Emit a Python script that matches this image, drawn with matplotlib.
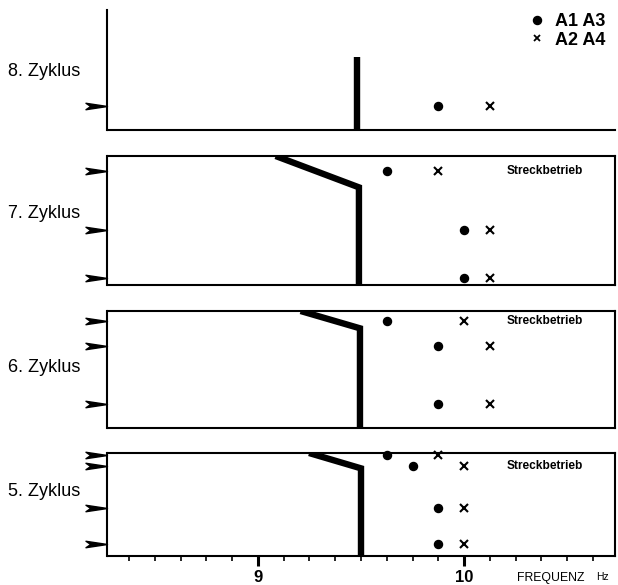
import numpy as np
import matplotlib
matplotlib.use("Agg")
import matplotlib.pyplot as plt
from matplotlib.path import Path
from matplotlib.lines import Line2D
from matplotlib.transforms import blended_transform_factory

plt.rcParams["font.family"] = ["Liberation Sans", "DejaVu Sans"]

# Zyklus labels, top to bottom
zyklen = ["8. Zyklus", "7. Zyklus", "6. Zyklus", "5. Zyklus"]

# Measurement positions within each panel (0 = bottom, 1 = top)
lage_8 = [0.20]
lage_7 = [0.886, 0.426, 0.052]
lage_6 = [0.915, 0.705, 0.203]
lage_5 = [0.976, 0.875, 0.466, 0.114]

# Natural frequencies [Hz], A1/A3 (dots) and A2/A4 (crosses)
a13_8 = [9.875]
a24_8 = [10.125]
a13_7 = [9.625, 10.0, 10.0]
a24_7 = [9.875, 10.125, 10.125]
a13_6 = [9.625, 9.875, 9.875]
a24_6 = [10.0, 10.125, 10.125]
a13_5 = [9.625, 9.75, 9.875, 9.875]
a24_5 = [9.875, 10.0, 10.0, 10.0]

# Excitation frequency curve per panel: (frequency, position)
grenz_f_8 = [9.48, 9.48]
grenz_y_8 = [0.0, 0.609]
grenz_f_7 = [9.086, 9.49, 9.49]
grenz_y_7 = [1.0, 0.757, 0.0]
grenz_f_6 = [9.207, 9.495, 9.495]
grenz_y_6 = [1.0, 0.852, 0.0]
grenz_f_5 = [9.248, 9.50, 9.50]
grenz_y_5 = [1.0, 0.851, 0.0]

# Which panels are in "Streckbetrieb" and at which row the note sits
streck_zeile = [None, 0, 0, 1]

x_major = [9, 10]
x_major_labels = ["9", "10"]
x_min, x_max = 8.27, 10.73

lagen = [lage_8, lage_7, lage_6, lage_5]
a13 = [a13_8, a13_7, a13_6, a13_5]
a24 = [a24_8, a24_7, a24_6, a24_5]
grenz_f = [grenz_f_8, grenz_f_7, grenz_f_6, grenz_f_5]
grenz_y = [grenz_y_8, grenz_y_7, grenz_y_6, grenz_y_5]

W, H = 618, 585
fig = plt.figure(figsize=(W / 100, H / 100), dpi=100)

left_px, right_px = 107.5, 614.5
panels_px = [(10, 129.5), (156, 285), (311, 428), (453, 556)]
label_y_px = [72, 214, 368, 492]

# dart-shaped arrowhead marker (tip at the origin, pointing right)
dart = Path([(0, 0), (-1, 0.15), (-0.78, 0), (-1, -0.15), (0, 0)],
            [Path.MOVETO, Path.LINETO, Path.LINETO, Path.LINETO, Path.CLOSEPOLY])

axes = []
for i, (top, bot) in enumerate(panels_px):
    ax = fig.add_axes([left_px / W, 1 - bot / H,
                       (right_px - left_px) / W, (bot - top) / H])
    axes.append(ax)
    ax.set_xlim(x_min, x_max)
    ax.set_ylim(0, 1)
    for s in ax.spines.values():
        s.set_linewidth(1.5)
        s.set_color("black")
    if i == 0:
        ax.spines["top"].set_visible(False)
        ax.spines["right"].set_visible(False)
    ax.set_yticks([])

    # excitation frequency curve
    ax.plot(grenz_f[i], grenz_y[i], color="black", lw=4.6,
            solid_joinstyle="miter", solid_capstyle="butt")

    # measured frequencies
    ax.plot(a13[i], lagen[i], ls="none", marker="o", ms=5.8,
            color="black", clip_on=False)
    ax.plot(a24[i], lagen[i], ls="none", marker="x", ms=5.5, mew=1.5,
            color="black", clip_on=False)

    # arrows marking the measurement instants
    tr = blended_transform_factory(ax.transAxes, ax.transData)
    ax.plot(np.zeros(len(lagen[i])), lagen[i], ls="none", marker=dart,
            ms=31, color="black", transform=tr, clip_on=False)

    if streck_zeile[i] is not None:
        ax.text(10.205, lagen[i][streck_zeile[i]], "Streckbetrieb",
                fontsize=8.6, fontweight="bold", va="center", ha="left")

    fig.text(8 / W, 1 - label_y_px[i] / H, zyklen[i], fontsize=13,
             va="center", ha="left")

    if i < 3:
        ax.set_xticks([])
    else:
        ax.set_xticks(x_major)
        ax.set_xticklabels(x_major_labels, fontsize=12, fontweight="bold")
        ax.set_xticks(np.arange(8.375, 10.7, 0.125), minor=True)
        ax.tick_params(axis="x", which="major", direction="out",
                       length=7, width=2.2, pad=3)
        ax.tick_params(axis="x", which="minor", direction="out",
                       length=3.6, width=1.2)

# legend
handles = [Line2D([], [], ls="none", marker="o", ms=5.8, color="black"),
           Line2D([], [], ls="none", marker="x", ms=5, mew=1.3, color="black")]
fig.legend(handles, ["A1 A3", "A2 A4"], loc="upper right",
           bbox_to_anchor=(605 / W, 1 - 13 / H), frameon=False,
           prop={"size": 13, "weight": "bold"}, handlelength=1.0,
           handletextpad=0.5, labelspacing=0.1, borderpad=0,
           borderaxespad=0)

# axis title
fig.text(517 / W, 1 - 578 / H, "FREQUENZ", fontsize=8.8, va="center",
         ha="left")
fig.text(596 / W, 1 - 577.5 / H, "Hz", fontsize=7.5, va="center", ha="left")

fig.savefig("out.png", dpi=100)
